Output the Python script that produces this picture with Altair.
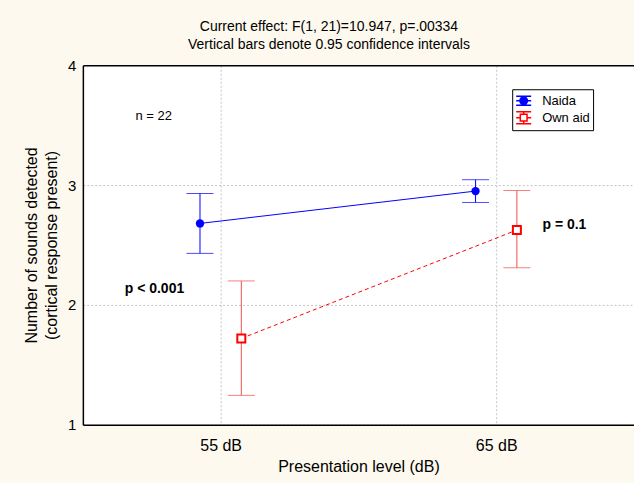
import altair as alt
import pandas as pd

# ---- data ----
levels = ["55 dB", "65 dB"]
groups = ["Naida", "Own aid"]
naida_mean = [2.68, 2.95]
naida_low = [2.43, 2.855]
naida_high = [2.93, 3.045]
own_mean = [1.72, 2.625]
own_low = [1.245, 2.31]
own_high = [2.20, 2.955]

title_lines = ["Current effect: F(1, 21)=10.947, p=.00334",
               "Vertical bars denote 0.95 confidence intervals"]
y_title = ["Number of sounds detected", "(cortical response present)"]
x_title = "Presentation level (dB)"
y_ticks = [1, 2, 3, 4]

note_plain = ["n = 22"]
note_plain_x = [0.757]
note_plain_y = [3.578]
note_bold = ["p < 0.001", "p = 0.1"]
note_bold_x = [0.652, 2.168]
note_bold_y = [2.131, 2.667]

# ---- tables ----
rows = []
for g, m, lo, hi in [(groups[0], naida_mean, naida_low, naida_high),
                     (groups[1], own_mean, own_low, own_high)]:
    for li, lev in enumerate(levels):
        rows.append({"group": g, "level": lev, "li": li, "mean": m[li], "low": lo[li], "high": hi[li]})
df = pd.DataFrame(rows)
plain_df = pd.DataFrame({"txt": note_plain, "nx": note_plain_x, "ny": note_plain_y})
bold_df = pd.DataFrame({"txt": note_bold, "nx": note_bold_x, "ny": note_bold_y})

BLUE = "#0000ff"
RED = "#ff0000"
RED_BAR = "#f04c4c"
FONT = "Liberation Sans"
GRID = "#c4c4c4"

label_expr = "[" + ",".join("'%s'" % l for l in levels) + "][datum.value - 1]"

x_scale = alt.Scale(domain=[0.5, 2.5], nice=False, zero=False)
y_scale = alt.Scale(domain=[y_ticks[0], y_ticks[-1]], nice=False, zero=False)
x_axis = alt.Axis(values=[1, 2], labelExpr=label_expr, labelFontSize=16, labelColor="black",
                  labelPadding=13, ticks=False, domainColor="black", domainWidth=1.5,
                  grid=True, gridColor=GRID, gridDash=[2, 2], gridWidth=1,
                  titleFontSize=16, titleFontWeight="normal", titleColor="black", titlePadding=5,
                  labelFont=FONT, titleFont=FONT)
top_cond = "datum.value == %d" % y_ticks[-1]
y_axis = alt.Axis(values=y_ticks, format="d", labelFontSize=15, labelColor="black",
                  labelPadding=7, ticks=False, domainColor="black", domainWidth=1.5,
                  grid=True,
                  gridColor=alt.condition(top_cond, alt.value("black"), alt.value(GRID)),
                  gridDash=alt.condition(top_cond, alt.value([1, 0]), alt.value([2, 2])),
                  gridWidth=alt.condition(top_cond, alt.value(1.5), alt.value(1)),
                  titleFontSize=16, titleFontWeight="normal", titleColor="black",
                  titleLineHeight=20, titlePadding=8, labelFont=FONT, titleFont=FONT)


def X(field):
    return alt.X(field, type="quantitative", scale=x_scale, axis=x_axis, title=x_title)


def Y(field):
    return alt.Y(field, type="quantitative", scale=y_scale, axis=y_axis, title=y_title)


base = alt.Chart(df).transform_calculate(
    pos="datum.li + 1 + (datum.group == '%s' ? -0.075 : 0.075)" % groups[0]
)
naida = base.transform_filter("datum.group == '%s'" % groups[0])
own = base.transform_filter("datum.group == '%s'" % groups[1])


def bars(src, col):
    r = src.mark_rule(strokeWidth=1, color=col).encode(x=X("pos"), y=Y("low"), y2="high")
    lo = src.mark_tick(orient="horizontal", size=27, thickness=1, color=col).encode(x=X("pos"), y=Y("low"))
    hi = src.mark_tick(orient="horizontal", size=27, thickness=1, color=col).encode(x=X("pos"), y=Y("high"))
    return [r, lo, hi]


line_naida = naida.mark_line(strokeWidth=1, color=BLUE).encode(x=X("pos"), y=Y("mean"), order="pos:Q")
line_own = own.mark_line(strokeWidth=1, color=RED, strokeDash=[4, 3]).encode(x=X("pos"), y=Y("mean"), order="pos:Q")

circles = naida.mark_point(shape="circle", filled=True, size=70, color=BLUE, opacity=1).encode(
    x=X("pos"), y=Y("mean"))
squares = own.mark_point(shape="square", size=64, fill="white", stroke=RED, strokeWidth=2, opacity=1).encode(
    x=X("pos"), y=Y("mean"))

path_naida = ("M-1,-0.6H1M-1,0.6H1M-1,0H1M0,-0.6V0.6"
              "M0.5,0A0.5,0.5,0,1,1,-0.5,0A0.5,0.5,0,1,1,0.5,0Z")
path_own = ("M-1,-0.8H1M-1,0.8H1M-1,0H-0.45M0.45,0H1M0,-0.8V-0.45M0,0.45V0.8"
            "M-0.45,-0.45H0.45V0.45H-0.45Z")

legend_def = alt.Legend(title=None, orient="none", legendX=430, legendY=24,
                        fillColor="white", strokeColor="black", padding=3, rowPadding=0,
                        labelFontSize=13, labelFont=FONT, labelColor="black", labelOffset=10,
                        symbolSize=225, symbolStrokeWidth=1.5, symbolOpacity=1)

legend_layer = base.mark_point(opacity=0).encode(
    x=X("pos"), y=Y("mean"),
    shape=alt.Shape("group:N", scale=alt.Scale(domain=groups, range=[path_naida, path_own]), legend=legend_def),
    stroke=alt.Stroke("group:N", scale=alt.Scale(domain=groups, range=[BLUE, RED]), legend=legend_def),
    fill=alt.Fill("group:N", scale=alt.Scale(domain=groups, range=[BLUE, "white"]), legend=legend_def),
)

plain_text = alt.Chart(plain_df).mark_text(font=FONT, fontSize=13, color="black", align="center",
                                           baseline="middle").encode(
    x=X("nx"), y=Y("ny"), text="txt:N")
bold_text = alt.Chart(bold_df).mark_text(font=FONT, fontSize=14, fontWeight="bold", color="black",
                                         align="left", baseline="middle").encode(
    x=X("nx"), y=Y("ny"), text="txt:N")

chart = alt.layer(
    *bars(naida, BLUE), *bars(own, RED_BAR), line_naida, line_own, circles, squares,
    legend_layer, plain_text, bold_text
).properties(
    width=552, height=360,
    title=alt.TitleParams(text=title_lines, fontSize=14, fontWeight="normal", color="black",
                          font=FONT, lineHeight=18, anchor="middle", dx=-29.5, dy=-1, offset=5.5),
    background="#fdf9ee",
    autosize=alt.AutoSizeParams(type="none"),
    padding={"left": 83, "top": 65, "right": 0, "bottom": 58},
).configure_view(
    fill="white", stroke="transparent", strokeWidth=0
)

chart.save("out.html", embed_options={"renderer": "svg", "actions": False})
